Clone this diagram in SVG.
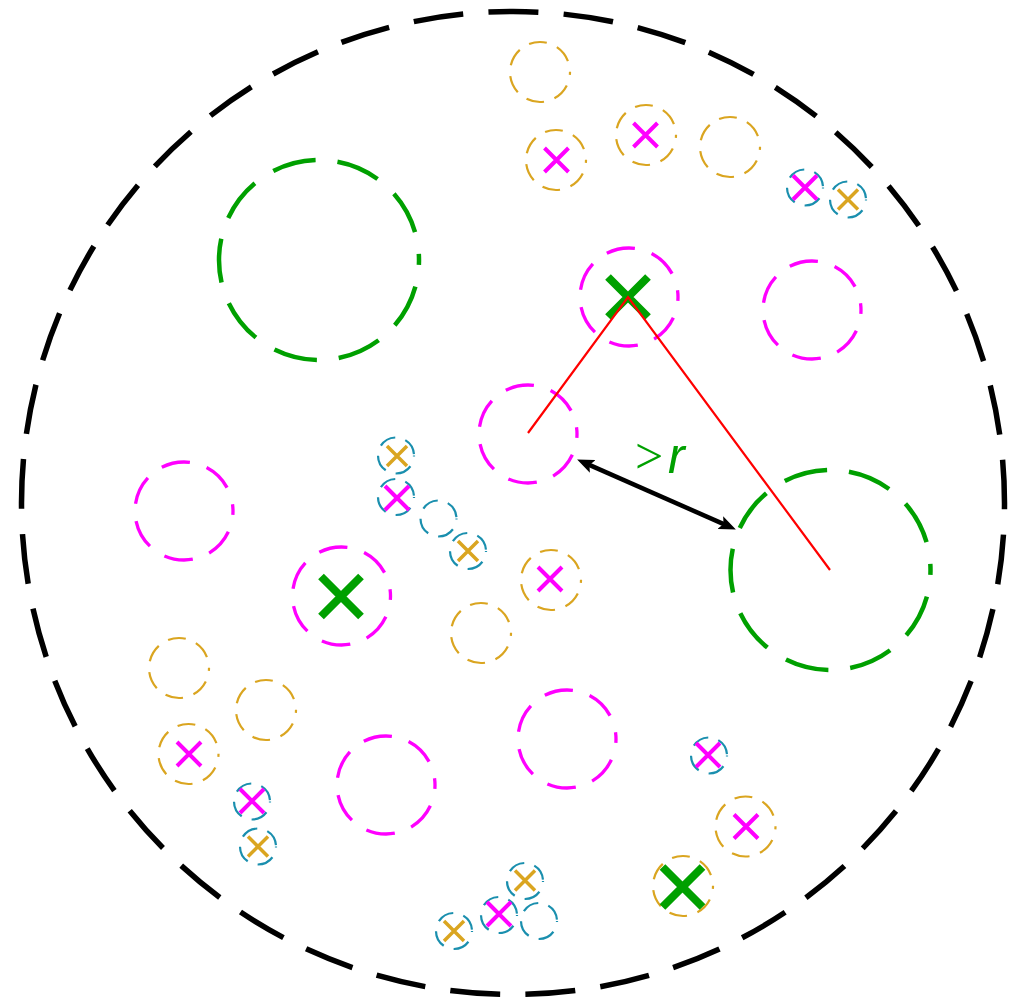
<svg xmlns="http://www.w3.org/2000/svg" width="1016" height="1000" viewBox="0 0 1016 1000">
<style>
.bound{fill:none;stroke:#000;stroke-width:5.5;stroke-dasharray:50 25.32;stroke-dashoffset:43.7}
.gc{fill:none;stroke:#00a000;stroke-width:4.5;stroke-dasharray:44 22;stroke-dashoffset:39}
.mc{fill:none;stroke:#ff00ff;stroke-width:3.3;stroke-dasharray:29 17.5;stroke-dashoffset:25}
.yc{fill:none;stroke:#daa520;stroke-width:2.2;stroke-dasharray:18 11;stroke-dashoffset:15}
.tc{fill:none;stroke:#1a8fae;stroke-width:2.2;stroke-dasharray:17 10.5;stroke-dashoffset:16}
.gx{stroke:#00a000;stroke-width:8;fill:none}
.mx{stroke:#ff00ff;stroke-width:4;fill:none}
.yx{stroke:#daa520;stroke-width:3.5;fill:none}
.red{stroke:#ff0000;stroke-width:2.2;fill:none}
.arr{stroke:#000;stroke-width:4.5;fill:none}
</style>
<defs>
<path id="xg" d="M-20,-20L20,20M-20,20L20,-20"/>
<path id="xm" d="M-12,-12L12,12M-12,12L12,-12"/>
<path id="xy" d="M-10,-10L10,10M-10,10L10,-10"/>
<marker id="ah" viewBox="0 0 17 14" refX="5" refY="7" markerWidth="17" markerHeight="14" markerUnits="userSpaceOnUse" orient="auto-start-reverse">
<path d="M0,0L17,7L0,14L3.5,7z" fill="#000"/>
</marker>
</defs>
<rect width="1016" height="1000" fill="#fff"/>
<g id="boundary"><circle class="bound" cx="513" cy="503" r="491.5"/></g>

<g id="green-circles">
<g id="g1"><circle class="gc" cx="319" cy="260" r="100"/></g>
<g id="g2"><circle class="gc" cx="830.5" cy="570" r="100"/></g>
</g>

<g id="magenta-circles">
<g id="m1"><circle class="mc" cx="629" cy="297" r="49"/><use href="#xg" class="gx" x="628" y="297"/></g>
<g id="m2"><circle class="mc" cx="812" cy="310" r="49"/></g>
<g id="m3"><circle class="mc" cx="528" cy="434" r="49"/></g>
<g id="m4"><circle class="mc" cx="184" cy="511" r="49"/></g>
<g id="m5"><circle class="mc" cx="341.5" cy="596" r="49"/><use href="#xg" class="gx" x="341" y="596.5"/></g>
<g id="m6"><circle class="mc" cx="567" cy="739" r="49"/></g>
<g id="m7"><circle class="mc" cx="386" cy="785" r="49"/></g>
</g>

<g id="gold-circles">
<g id="y1"><circle class="yc" cx="540" cy="72" r="30"/></g>
<g id="y2"><circle class="yc" cx="556" cy="160" r="30"/><use href="#xm" class="mx" x="556.5" y="160"/></g>
<g id="y3"><circle class="yc" cx="646" cy="135" r="30"/><use href="#xm" class="mx" x="645.5" y="135"/></g>
<g id="y4"><circle class="yc" cx="730" cy="147" r="30"/></g>
<g id="y5"><circle class="yc" cx="551" cy="580" r="30"/><use href="#xm" class="mx" x="550" y="579"/></g>
<g id="y6"><circle class="yc" cx="481" cy="633" r="30"/></g>
<g id="y7"><circle class="yc" cx="179" cy="668" r="30"/></g>
<g id="y8"><circle class="yc" cx="266" cy="710" r="30"/></g>
<g id="y9"><circle class="yc" cx="188.5" cy="754" r="30"/><use href="#xm" class="mx" x="189" y="754"/></g>
<g id="y10"><circle class="yc" cx="745.5" cy="826.5" r="30"/><use href="#xm" class="mx" x="746" y="826.5"/></g>
<g id="y11"><circle class="yc" cx="683" cy="886" r="30"/><use href="#xg" class="gx" x="682.5" y="887"/></g>
</g>

<g id="teal-circles">
<g id="t1"><circle class="tc" cx="805" cy="187.5" r="18"/><use href="#xm" class="mx" x="805" y="187.5"/></g>
<g id="t2"><circle class="tc" cx="848" cy="199.5" r="18"/><use href="#xy" class="yx" x="848" y="199.5"/></g>
<g id="t3"><circle class="tc" cx="396" cy="455.5" r="18"/><use href="#xy" class="yx" x="397" y="456"/></g>
<g id="t4"><circle class="tc" cx="396" cy="497" r="18"/><use href="#xm" class="mx" x="397" y="498"/></g>
<g id="t5"><circle class="tc" cx="438.5" cy="518.5" r="18"/></g>
<g id="t6"><circle class="tc" cx="468" cy="551" r="18"/><use href="#xy" class="yx" x="468" y="551"/></g>
<g id="t7"><circle class="tc" cx="252" cy="801.5" r="18"/><use href="#xm" class="mx" x="252" y="801"/></g>
<g id="t8"><circle class="tc" cx="258" cy="846.5" r="18"/><use href="#xy" class="yx" x="258" y="846.5"/></g>
<g id="t9"><circle class="tc" cx="709" cy="755.5" r="18"/><use href="#xm" class="mx" x="708" y="755"/></g>
<g id="t10"><circle class="tc" cx="454" cy="931" r="18"/><use href="#xy" class="yx" x="454" y="931"/></g>
<g id="t11"><circle class="tc" cx="499" cy="915" r="18"/><use href="#xm" class="mx" x="499" y="914"/></g>
<g id="t12"><circle class="tc" cx="525" cy="881" r="18"/><use href="#xy" class="yx" x="525" y="880.5"/></g>
<g id="t13"><circle class="tc" cx="539" cy="921" r="18"/></g>
</g>

<g id="connectors">
<polyline class="red" points="528,433 628,297 830,570"/>
<line class="arr" x1="588.1" y1="464.4" x2="724.9" y2="524.6" marker-start="url(#ah)" marker-end="url(#ah)"/>
</g>

<g id="label" fill="#00a000">
<text x="635" y="473" font-family="Liberation Serif, serif" font-size="50">&gt;</text>
<text x="668" y="473" font-family="Liberation Sans, sans-serif" font-style="italic" font-size="50">r</text>
</g>
</svg>
